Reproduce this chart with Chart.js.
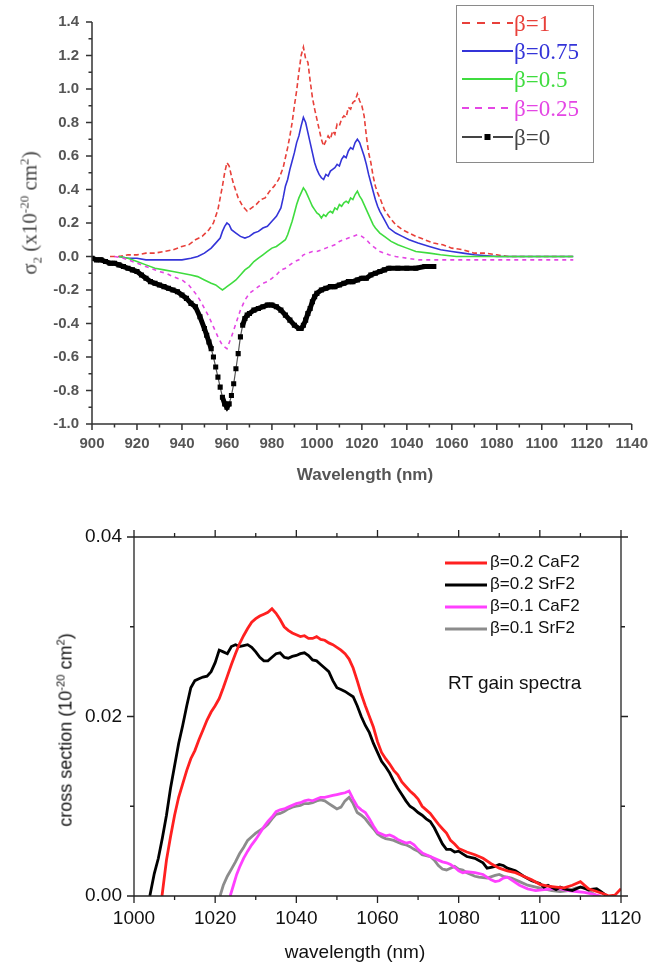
<!DOCTYPE html>
<html>
<head>
<meta charset="utf-8">
<script src="https://cdn.jsdelivr.net/npm/chart.js@4.4.0/dist/chart.umd.min.js"></script>
<style>
    body { margin: 0; background: #fff; width: 659px; height: 966px; position: relative; overflow: hidden; font-family: "Liberation Sans", Arial, sans-serif; }
    canvas { position: absolute; left: 0; }
    #topChart { top: 0; }
    #bottomChart { top: 500px; }
    .txt { position: absolute; white-space: nowrap; }
    .rot { transform: translate(-50%, -50%) rotate(-90deg); }
    sup, sub { font-size: 62%; line-height: 0; }
    #topLegend { position: absolute; left: 456px; top: 5px; width: 136px; height: 156px; border: 1.5px solid #8a8a8a; }
    .row { position: absolute; left: 0; height: 24px; width: 136px; }
    .row svg { position: absolute; left: 5px; top: 7px; }
</style>
</head>
<body>
<canvas id="topChart" width="659" height="500"></canvas>
<canvas id="bottomChart" width="659" height="466"></canvas>

<div class="txt rot" style="left:30px; top:213px; font:21px 'Liberation Serif', serif; color:#444;">&sigma;<sub>2</sub> (x10<sup>-20</sup> cm<sup>2</sup>)</div>
<div class="txt" style="left:365px; top:475px; transform:translate(-50%,-50%); font:bold 17px 'Liberation Sans', Arial, sans-serif; color:#555;">Wavelength (nm)</div>
<div id="topLegend"></div>

<div class="txt rot" style="left:66px; top:730px; font:18px 'Liberation Sans', Arial, sans-serif; color:#111;">cross section (10<sup>-20</sup> cm<sup>2</sup>)</div>
<div class="txt" style="left:355px; top:952px; transform:translate(-50%,-50%); font:19px 'Liberation Sans', Arial, sans-serif; color:#111;">wavelength (nm)</div>
<div class="txt" style="left:448px; top:672px; font:19px 'Liberation Sans', Arial, sans-serif; color:#111;">RT gain spectra</div>
<div id="bottomLegend"></div>

<script>
    // ---- top panel: sigma_2 vs wavelength for several beta ----
    var topLabels = ['β=1', 'β=0.75', 'β=0.5', 'β=0.25', 'β=0'];
    var topColors = ['#e8403a', '#3434d8', '#3fdc3f', '#e446e4', '#000000'];
    var topXTicks = [900, 1140, 20];
    var topYTicks = [-1.0, 1.4, 0.2];

    var beta100 = [[908,0],[912,0],[916,0.01],[920,0.01],[924,0.02],[928,0.02],[932,0.03],[936,0.04],[940,0.06],
        [943,0.07],[946,0.10],[949,0.12],[952,0.16],[954,0.20],[956,0.28],[958,0.42],[959,0.50],[960,0.56],[961,0.54],
        [962,0.48],[963,0.43],[965,0.35],[967,0.30],[969,0.27],[971,0.29],[973,0.31],[975,0.34],[977,0.35],[979,0.39],
        [981,0.42],[983,0.46],[985,0.53],[987,0.65],[988,0.72],[989,0.80],[990,0.90],[991,0.99],[992,1.10],[993,1.20],
        [994,1.25],[995,1.18],[996,1.16],[997,1.05],[998,0.95],[999,0.88],[1000,0.82],[1001,0.76],[1002,0.70],[1003,0.66],
        [1004,0.69],[1005,0.72],[1006,0.70],[1007,0.75],[1008,0.73],[1009,0.79],[1010,0.78],[1011,0.82],[1012,0.84],
        [1013,0.83],[1014,0.89],[1015,0.88],[1016,0.92],[1017,0.93],[1018,0.97],[1019,0.93],[1020,0.90],[1021,0.84],
        [1022,0.72],[1023,0.62],[1024,0.56],[1025,0.48],[1026,0.42],[1027,0.38],[1028,0.35],[1030,0.28],[1032,0.24],
        [1035,0.19],[1038,0.16],[1041,0.14],[1044,0.12],[1048,0.10],[1052,0.08],[1056,0.07],[1060,0.05],[1065,0.04],
        [1070,0.02],[1075,0.02],[1080,0.01],[1085,0],[1090,0],[1095,0],[1100,0],[1105,0],[1110,0],[1114,0]];

    var beta075 = [[912,0],[916,-0.01],[920,-0.01],[924,-0.02],[928,-0.02],[932,-0.02],[936,-0.02],[940,-0.02],
        [944,-0.01],[947,0],[950,0.02],[953,0.05],[955,0.08],[957,0.11],[958,0.15],[959,0.18],[960,0.20],[961,0.19],
        [962,0.16],[964,0.14],[966,0.12],[968,0.11],[970,0.12],[972,0.14],[974,0.15],[976,0.17],[978,0.18],[980,0.21],
        [982,0.24],[984,0.29],[985,0.35],[986,0.42],[987,0.46],[988,0.52],[989,0.57],[990,0.62],[991,0.68],[992,0.72],
        [993,0.78],[994,0.83],[995,0.80],[996,0.74],[997,0.68],[998,0.62],[999,0.56],[1000,0.52],[1001,0.49],[1002,0.47],
        [1003,0.46],[1004,0.49],[1005,0.48],[1006,0.51],[1007,0.52],[1008,0.53],[1009,0.55],[1010,0.54],[1011,0.58],
        [1012,0.60],[1013,0.59],[1014,0.63],[1015,0.65],[1016,0.64],[1017,0.68],[1018,0.70],[1019,0.68],[1020,0.64],
        [1021,0.60],[1022,0.55],[1023,0.49],[1024,0.44],[1025,0.39],[1026,0.34],[1027,0.30],[1028,0.27],[1030,0.22],
        [1032,0.17],[1035,0.14],[1038,0.12],[1041,0.10],[1045,0.08],[1050,0.06],[1055,0.04],[1060,0.03],[1065,0.02],
        [1070,0.01],[1080,0],[1090,0],[1100,0],[1114,0]];

    var beta050 = [[912,0],[916,-0.01],[920,-0.03],[924,-0.05],[928,-0.07],[932,-0.08],[936,-0.09],[940,-0.10],
        [944,-0.11],[947,-0.12],[950,-0.14],[953,-0.16],[955,-0.17],[957,-0.19],[958,-0.20],[959,-0.19],[960,-0.18],
        [962,-0.16],[964,-0.14],[966,-0.11],[968,-0.08],[970,-0.06],[972,-0.03],[974,-0.01],[976,0.01],[978,0.03],
        [980,0.05],[982,0.06],[984,0.08],[986,0.10],[987,0.13],[988,0.17],[989,0.21],[990,0.26],[991,0.31],[992,0.35],
        [993,0.38],[994,0.41],[995,0.39],[996,0.36],[997,0.33],[998,0.30],[999,0.28],[1000,0.26],[1001,0.25],[1002,0.23],
        [1003,0.25],[1004,0.24],[1005,0.26],[1006,0.27],[1007,0.26],[1008,0.29],[1009,0.28],[1010,0.31],[1011,0.30],
        [1012,0.32],[1013,0.33],[1014,0.32],[1015,0.35],[1016,0.34],[1017,0.37],[1018,0.39],[1019,0.36],[1020,0.34],
        [1021,0.31],[1022,0.28],[1023,0.25],[1024,0.22],[1025,0.19],[1026,0.17],[1028,0.14],[1030,0.12],[1033,0.09],
        [1036,0.07],[1040,0.05],[1044,0.03],[1050,0.02],[1055,0.01],[1062,0],[1070,0],[1080,0],[1090,0],[1100,0],[1114,0]];

    var beta025 = [[910,0],[914,-0.01],[918,-0.03],[922,-0.05],[926,-0.07],[930,-0.09],[933,-0.10],[936,-0.12],
        [940,-0.14],[943,-0.17],[946,-0.22],[948,-0.26],[950,-0.31],[952,-0.36],[954,-0.42],[956,-0.48],[958,-0.53],
        [960,-0.55],[962,-0.48],[964,-0.40],[966,-0.32],[968,-0.26],[970,-0.22],[972,-0.20],[974,-0.18],[976,-0.16],
        [978,-0.15],[980,-0.13],[982,-0.11],[984,-0.08],[986,-0.07],[988,-0.05],[990,-0.03],[992,-0.02],[994,0.01],
        [996,0.02],[998,0.03],[1000,0.03],[1002,0.04],[1004,0.05],[1006,0.06],[1008,0.07],[1010,0.09],[1012,0.10],
        [1014,0.11],[1016,0.12],[1018,0.13],[1020,0.12],[1022,0.10],[1024,0.07],[1026,0.05],[1028,0.03],[1030,0.02],
        [1032,0.01],[1035,0],[1040,-0.01],[1045,-0.02],[1050,-0.02],[1060,-0.02],[1070,-0.02],[1080,-0.02],
        [1090,-0.02],[1100,-0.02],[1114,-0.02]];

    var beta000 = [[900,-0.01],[902,-0.02],[904,-0.02],[906,-0.03],[908,-0.04],[910,-0.04],[912,-0.05],[914,-0.06],
        [916,-0.07],[918,-0.08],[920,-0.09],[922,-0.11],[924,-0.13],[926,-0.15],[928,-0.16],[930,-0.17],[932,-0.18],
        [934,-0.19],[936,-0.20],[938,-0.21],[940,-0.23],[942,-0.25],[944,-0.28],[946,-0.30],[948,-0.36],[950,-0.43],
        [951,-0.47],[952,-0.51],[953,-0.55],[954,-0.60],[955,-0.66],[956,-0.72],[957,-0.78],[958,-0.84],[959,-0.88],
        [960,-0.90],[961,-0.88],[962,-0.83],[963,-0.76],[964,-0.67],[965,-0.58],[966,-0.48],[967,-0.41],[968,-0.37],
        [969,-0.35],[970,-0.34],[972,-0.32],[974,-0.31],[976,-0.30],[978,-0.29],[980,-0.29],[982,-0.30],[984,-0.32],
        [986,-0.35],[988,-0.38],[990,-0.41],[992,-0.43],[993,-0.43],[994,-0.41],[995,-0.38],[996,-0.34],[997,-0.31],
        [998,-0.27],[999,-0.24],[1000,-0.22],[1002,-0.20],[1004,-0.19],[1006,-0.18],[1008,-0.18],[1010,-0.17],
        [1012,-0.16],[1014,-0.15],[1016,-0.15],[1018,-0.14],[1020,-0.13],[1022,-0.13],[1024,-0.11],[1026,-0.10],
        [1028,-0.09],[1030,-0.08],[1032,-0.07],[1036,-0.07],[1040,-0.07],[1044,-0.07],[1048,-0.06],[1052,-0.06]];

    // ---- bottom panel: RT gain spectra ----
    var bottomLabels = ['β=0.2 CaF2', 'β=0.2 SrF2', 'β=0.1 CaF2', 'β=0.1 SrF2'];
    var bottomColors = ['#ff2020', '#000000', '#ff40ff', '#8c8c8c'];
    var bottomXTicks = [1000, 1120, 20];
    var bottomYTicks = [0, 0.04, 0.02];

    var caf2b02 = [[1006.9,0],[1008,0.0040],[1009,0.0066],[1010,0.0090],[1011,0.0110],[1012,0.0125],[1013,0.0140],
        [1014,0.0153],[1015,0.0162],[1016,0.0174],[1017,0.0185],[1018,0.0196],[1019,0.0205],[1020,0.0212],[1021,0.0220],
        [1022,0.0232],[1023,0.0245],[1024,0.0258],[1025,0.0270],[1026,0.0281],[1027,0.0290],[1028,0.0298],[1029,0.0305],
        [1030,0.0309],[1031,0.0312],[1032,0.0314],[1033,0.0316],[1034,0.0320],[1035,0.0315],[1036,0.0308],[1037,0.0300],
        [1038,0.0296],[1039,0.0293],[1040,0.0291],[1041,0.0289],[1042,0.0290],[1043,0.0287],[1044,0.0287],[1045,0.0289],
        [1046,0.0286],[1047,0.0285],[1048,0.0282],[1049,0.0280],[1050,0.0277],[1051,0.0274],[1052,0.0270],[1053,0.0264],
        [1054,0.0254],[1055,0.0240],[1056,0.0225],[1057,0.0212],[1058,0.0200],[1059,0.0188],[1060,0.0172],[1061,0.0160],
        [1062,0.0153],[1063,0.0147],[1064,0.0140],[1065,0.0135],[1066,0.0127],[1067,0.0122],[1068,0.0117],[1069,0.0113],
        [1070,0.0108],[1071,0.0100],[1072,0.0096],[1073,0.0092],[1074,0.0086],[1075,0.0080],[1076,0.0075],[1077,0.0070],
        [1078,0.0062],[1079,0.0058],[1080,0.0053],[1082,0.0049],[1084,0.0046],[1086,0.0042],[1088,0.0036],[1090,0.0031],
        [1092,0.0028],[1094,0.0026],[1096,0.0022],[1098,0.0018],[1100,0.0013],[1102,0.0011],[1104,0.0010],[1106,0.0009],
        [1108,0.0012],[1110,0.0016],[1112,0.0008],[1114,0.0005],[1116,0.0002],[1117,0],[1118.5,0.0001],[1120,0.0008]];

    var srf2b02 = [[1003.9,0],[1005,0.0025],[1006,0.0042],[1007,0.0065],[1008,0.0090],[1009,0.0120],[1010,0.0145],
        [1011,0.0170],[1012,0.0190],[1013,0.0212],[1014,0.0232],[1015,0.0240],[1016,0.0242],[1017,0.0244],[1018,0.0245],
        [1019,0.0250],[1020,0.0260],[1021,0.0274],[1022,0.0272],[1023,0.0270],[1024,0.0278],[1025,0.0280],[1026,0.0278],
        [1027,0.0279],[1028,0.0280],[1029,0.0277],[1030,0.0272],[1031,0.0266],[1032,0.0262],[1033,0.0262],[1034,0.0266],
        [1035,0.0270],[1036,0.0271],[1037,0.0266],[1038,0.0265],[1039,0.0267],[1040,0.0268],[1041,0.0270],[1042,0.0271],
        [1043,0.0268],[1044,0.0263],[1045,0.0262],[1046,0.0258],[1047,0.0254],[1048,0.0250],[1049,0.0240],[1050,0.0232],
        [1051,0.0230],[1052,0.0228],[1053,0.0225],[1054,0.0222],[1055,0.0212],[1056,0.0200],[1057,0.0190],[1058,0.0182],
        [1059,0.0170],[1060,0.0160],[1061,0.0150],[1062,0.0144],[1063,0.0137],[1064,0.0128],[1065,0.0120],[1066,0.0113],
        [1067,0.0106],[1068,0.0100],[1069,0.0097],[1070,0.0093],[1071,0.0090],[1072,0.0086],[1073,0.0083],[1074,0.0076],
        [1075,0.0067],[1076,0.0058],[1077,0.0052],[1078,0.0052],[1079,0.0049],[1080,0.0050],[1081,0.0047],[1082,0.0044],
        [1084,0.0042],[1086,0.0037],[1087,0.0031],[1088,0.0032],[1089,0.0033],[1090,0.0035],[1091,0.0034],[1092,0.0031],
        [1094,0.0028],[1096,0.0022],[1098,0.0017],[1100,0.0014],[1101,0.0010],[1102,0.0012],[1104,0.0007],[1105,0.0010],
        [1106,0.0008],[1108,0.0006],[1110,0.0010],[1112,0.0007],[1114,0.0008],[1115,0.0005],[1116.5,0]];

    var caf2b01 = [[1023.7,0],[1024.5,0.0012],[1025.3,0.0024],[1026,0.0032],[1027,0.0042],[1028,0.0050],[1029,0.0057],
        [1030,0.0063],[1031,0.0070],[1032,0.0077],[1033,0.0083],[1034,0.0088],[1035,0.0094],[1036,0.0096],[1037,0.0097],
        [1038,0.0099],[1039,0.0101],[1040,0.0103],[1041,0.0104],[1042,0.0106],[1043,0.0107],[1044,0.0106],[1045,0.0108],
        [1046,0.0110],[1047,0.0110],[1048,0.0111],[1049,0.0112],[1050,0.0113],[1051,0.0114],[1052,0.0115],[1053,0.0117],
        [1054,0.0108],[1055,0.0100],[1056,0.0096],[1057,0.0093],[1058,0.0086],[1059,0.0078],[1060,0.0071],[1061,0.0069],
        [1062,0.0067],[1063,0.0068],[1064,0.0066],[1065,0.0063],[1066,0.0061],[1067,0.0059],[1068,0.0060],[1069,0.0057],
        [1070,0.0052],[1071,0.0048],[1072,0.0046],[1073,0.0044],[1074,0.0042],[1075,0.0040],[1076,0.0038],[1077,0.0037],
        [1078,0.0035],[1079,0.0032],[1080,0.0028],[1081,0.0026],[1082,0.0027],[1084,0.0026],[1086,0.0024],[1088,0.0018],
        [1089,0.0016],[1090,0.0017],[1091,0.0020],[1092,0.0021],[1093,0.0018],[1095,0.0012],[1097,0.0008],[1099,0.0006],
        [1101,0.0007],[1103,0.0008],[1105,0.0008],[1107,0.0006],[1109,0.0005],[1111,0.0004],[1113,0.0002],[1115,0]];

    var srf2b01 = [[1021.2,0],[1022,0.0012],[1023,0.0022],[1024,0.0030],[1025,0.0038],[1026,0.0047],[1027,0.0054],
        [1028,0.0062],[1029,0.0066],[1030,0.0070],[1031,0.0073],[1032,0.0076],[1033,0.0080],[1034,0.0086],[1035,0.0091],
        [1036,0.0092],[1037,0.0094],[1038,0.0097],[1039,0.0099],[1040,0.0100],[1041,0.0101],[1042,0.0103],[1043,0.0103],
        [1044,0.0104],[1045,0.0106],[1046,0.0107],[1047,0.0106],[1048,0.0103],[1049,0.0100],[1050,0.0097],[1051,0.0099],
        [1052,0.0106],[1053,0.0110],[1054,0.0103],[1055,0.0093],[1056,0.0090],[1057,0.0086],[1058,0.0080],[1059,0.0075],
        [1060,0.0069],[1061,0.0066],[1062,0.0064],[1063,0.0063],[1064,0.0062],[1065,0.0060],[1066,0.0058],[1067,0.0057],
        [1068,0.0055],[1069,0.0052],[1070,0.0050],[1071,0.0046],[1072,0.0045],[1073,0.0044],[1074,0.0040],[1075,0.0034],
        [1076,0.0030],[1077,0.0029],[1078,0.0031],[1079,0.0033],[1080,0.0030],[1081,0.0029],[1082,0.0026],[1084,0.0022],
        [1085,0.0021],[1087,0.0020],[1089,0.0023],[1090,0.0024],[1091,0.0022],[1093,0.0020],[1095,0.0016],[1097,0.0012],
        [1099,0.0010],[1101,0.0008],[1103,0.0006],[1105,0.0005],[1107,0.0006],[1109,0.0009],[1111,0.0010],[1112,0.0006],
        [1114,0]];

    function pts(pairs) {
        return pairs.map(function (p) { return { x: p[0], y: p[1] }; });
    }

    // axis lines + major/minor tick marks, placed with the chart's own scales
    var axisFrame = {
        id: 'axisFrame',
        afterDatasetsDraw: function (chart, args, o) {
            var ctx = chart.ctx, a = chart.chartArea;
            ctx.save();
            ctx.strokeStyle = o.color;
            ctx.lineWidth = o.lineWidth;
            ctx.beginPath();
            o.sides.forEach(function (side) {
                var horiz = side === 'top' || side === 'bottom';
                var scale = chart.scales[horiz ? 'x' : 'y'];
                var t = horiz ? o.x : o.y;
                var edge = { top: a.top, bottom: a.bottom, left: a.left, right: a.right }[side];
                var dir = (side === 'bottom' || side === 'right') ? 1 : -1;
                if (horiz) { ctx.moveTo(a.left, edge); ctx.lineTo(a.right, edge); }
                else { ctx.moveTo(edge, a.top); ctx.lineTo(edge, a.bottom); }
                var n = Math.round((t[1] - t[0]) / (t[2] / 2));
                for (var i = 0; i <= n; i++) {
                    var p = scale.getPixelForValue(t[0] + i * t[2] / 2);
                    var len = (i % 2 === 0) ? o.majorLen : o.minorLen;
                    if (horiz) { ctx.moveTo(p, edge); ctx.lineTo(p, edge + dir * len); }
                    else { ctx.moveTo(edge, p); ctx.lineTo(edge + dir * len, p); }
                }
            });
            ctx.stroke();
            ctx.restore();
        }
    };

    function fixWidth(w) { return function (s) { s.width = w; }; }
    function fixHeight(h) { return function (s) { s.height = h; }; }
    function plainLabel(v) { return String(v); }

    // beta=0 curve: thick where flat, thin connector where it drops steeply (squares show there)
    function steepness(ctx) {
        var dx = Math.abs(ctx.p1.x - ctx.p0.x) || 0.01;
        return Math.abs(ctx.p1.y - ctx.p0.y) / dx;
    }

    var topSeries = [beta100, beta075, beta050, beta025, beta000];
    var topDash = [[5, 3], [], [], [4, 4], []];

    new Chart(document.getElementById('topChart'), {
        type: 'line',
        data: {
            datasets: topSeries.map(function (s, i) {
                var isBlack = i === 4;
                var ds = {
                    label: topLabels[i],
                    data: pts(s),
                    borderColor: topColors[i],
                    backgroundColor: topColors[i],
                    borderWidth: 1.6,
                    borderDash: topDash[i],
                    pointRadius: 0,
                    tension: 0
                };
                if (isBlack) {
                    ds.pointRadius = 3.6;
                    ds.pointStyle = 'rect';
                    ds.pointBorderWidth = 0;
                    ds.segment = {
                        borderWidth: function (c) { return steepness(c) > 3 ? 1.2 : 5; },
                        borderColor: function (c) { return steepness(c) > 3 ? '#555' : '#000'; }
                    };
                }
                return ds;
            }).reverse()
        },
        options: {
            responsive: false,
            animation: false,
            layout: { padding: { top: 17, right: 18, left: 0, bottom: 0 } },
            plugins: {
                legend: { display: false },
                tooltip: { enabled: false },
                axisFrame: {
                    sides: ['bottom', 'left'], color: '#333', lineWidth: 1.5, majorLen: 6, minorLen: 3.5,
                    x: topXTicks, y: topYTicks
                }
            },
            scales: {
                x: {
                    type: 'linear', min: topXTicks[0], max: topXTicks[1],
                    afterFit: fixHeight(76),
                    grid: { display: false, drawTicks: false },
                    border: { display: false },
                    ticks: { stepSize: topXTicks[2], padding: 11, color: '#555', callback: plainLabel,
                        font: { family: 'Liberation Sans', size: 15, weight: 'bold' } }
                },
                y: {
                    min: topYTicks[0], max: topYTicks[1],
                    afterFit: fixWidth(92),
                    grid: { display: false, drawTicks: false },
                    border: { display: false },
                    ticks: {
                        stepSize: topYTicks[2], padding: 13, color: '#555',
                        font: { family: 'Liberation Sans', size: 15, weight: 'bold' },
                        callback: function (v) { return Math.abs(v) < 1e-9 ? '0.0' : Number(v).toFixed(1); }
                    }
                }
            }
        },
        plugins: [axisFrame]
    });

    var bottomSeries = [caf2b02, srf2b02, caf2b01, srf2b01];

    new Chart(document.getElementById('bottomChart'), {
        type: 'line',
        data: {
            datasets: bottomSeries.map(function (s, i) {
                return {
                    label: bottomLabels[i],
                    data: pts(s),
                    borderColor: bottomColors[i],
                    borderWidth: 2.8,
                    pointRadius: 0,
                    tension: 0
                };
            })
        },
        options: {
            responsive: false,
            animation: false,
            layout: { padding: { top: 37, right: 38, left: 0, bottom: 0 } },
            plugins: {
                legend: { display: false },
                tooltip: { enabled: false },
                axisFrame: {
                    sides: ['bottom', 'left', 'top', 'right'], color: '#222', lineWidth: 1.3, majorLen: 7, minorLen: 4,
                    x: bottomXTicks, y: bottomYTicks
                }
            },
            scales: {
                x: {
                    type: 'linear', min: bottomXTicks[0], max: bottomXTicks[1],
                    afterFit: fixHeight(70),
                    grid: { display: false, drawTicks: false },
                    border: { display: false },
                    ticks: { stepSize: bottomXTicks[2], padding: 11, color: '#111', callback: plainLabel,
                        font: { family: 'Liberation Sans', size: 19 } }
                },
                y: {
                    min: bottomYTicks[0], max: bottomYTicks[1],
                    afterFit: fixWidth(134),
                    grid: { display: false, drawTicks: false },
                    border: { display: false },
                    ticks: {
                        stepSize: bottomYTicks[2], padding: 12, color: '#111',
                        font: { family: 'Liberation Sans', size: 19 },
                        callback: function (v) { return Number(v).toFixed(2); }
                    }
                }
            }
        },
        plugins: [axisFrame]
    });

    // ---- legends (html) ----
    var svgNS = 'http://www.w3.org/2000/svg';
    function sampleLine(w, color, width, dash, marker) {
        var svg = document.createElementNS(svgNS, 'svg');
        svg.setAttribute('width', w);
        svg.setAttribute('height', 10);
        var ln = document.createElementNS(svgNS, 'line');
        ln.setAttribute('x1', 0); ln.setAttribute('x2', w);
        ln.setAttribute('y1', 5); ln.setAttribute('y2', 5);
        ln.setAttribute('stroke', color);
        ln.setAttribute('stroke-width', width);
        if (dash) ln.setAttribute('stroke-dasharray', dash);
        svg.appendChild(ln);
        if (marker) {
            var r = document.createElementNS(svgNS, 'rect');
            r.setAttribute('x', w / 2 - 3); r.setAttribute('y', 2);
            r.setAttribute('width', 6); r.setAttribute('height', 6);
            r.setAttribute('fill', '#000');
            svg.appendChild(r);
        }
        return svg;
    }

    var topLegend = document.getElementById('topLegend');
    var topRowY = [22, 50, 78, 107, 136];
    var topLegendDash = ['8 7', null, null, '7 6', '20 11'];
    topLabels.forEach(function (lab, i) {
        var row = document.createElement('div');
        row.className = 'row';
        row.style.top = (topRowY[i] - 12 - 5) + 'px';
        row.appendChild(sampleLine(51, i === 4 ? '#444' : topColors[i], 2, topLegendDash[i], i === 4));
        var t = document.createElement('span');
        t.className = 'txt';
        t.style.cssText = 'left:57px; top:0; line-height:24px; font:23px "Liberation Serif", serif; color:' + (i === 4 ? '#444' : topColors[i]);
        t.textContent = lab;
        row.appendChild(t);
        topLegend.appendChild(row);
    });

    var bottomLegend = document.getElementById('bottomLegend');
    var bottomRowY = [563, 585, 607, 629];
    bottomLabels.forEach(function (lab, i) {
        var s = sampleLine(42, bottomColors[i], 3.2, null, false);
        s.style.position = 'absolute';
        s.style.left = '445px';
        s.style.top = (bottomRowY[i] - 5) + 'px';
        bottomLegend.appendChild(s);
        var t = document.createElement('div');
        t.className = 'txt';
        t.style.cssText = 'left:490px; top:' + (bottomRowY[i] - 11) + 'px; line-height:22px; font:17px "Liberation Sans", Arial, sans-serif; color:#111;';
        t.textContent = lab;
        bottomLegend.appendChild(t);
    });
</script>
</body>
</html>
